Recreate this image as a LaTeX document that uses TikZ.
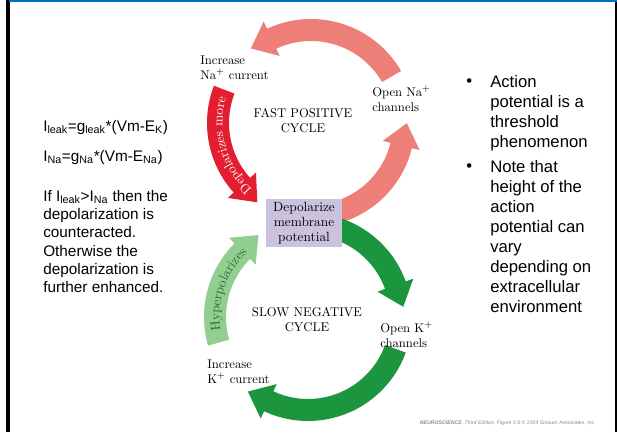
\documentclass[tikz,border=0pt]{standalone}
\usepackage{fontspec}
\newfontfamily\arial{Liberation Sans}
\usetikzlibrary{calc,decorations.text}
\definecolor{napink}{RGB}{238,126,120}
\definecolor{nared}{RGB}{226,30,48}
\definecolor{kgreen}{RGB}{28,150,62}
\definecolor{klight}{RGB}{146,206,144}
\definecolor{boxlilac}{RGB}{202,194,222}
\definecolor{slideblue}{RGB}{0,112,192}
\definecolor{hypertext}{RGB}{45,105,55}
\newcommand{\cyclearrow}[5]{%
  \fill[#5] ($(#1)+(#2:104)$) arc[start angle=#2, end angle=#3, radius=104]
    -- ($(#1)+(#3:112)$) -- ($(#1)+(#3:93)+({#3+(#4)}:23)$) -- ($(#1)+(#3:74)$)
    -- ($(#1)+(#3:82)$) arc[start angle=#3, end angle=#2, radius=82] -- cycle;}
\begin{document}
\begin{tikzpicture}[x=0.75pt,y=0.75pt,
    lbl/.style={font=\fontsize{9.5}{11.3}\selectfont, align=left, inner sep=0pt, anchor=west},
    cyc/.style={font=\fontsize{9.5}{11.3}\selectfont, align=center, inner sep=0pt},
    note/.style={font=\arial\fontsize{11.5}{13.7}\selectfont, align=left, inner sep=0pt, anchor=north west},
    point/.style={font=\arial\fontsize{12.5}{15}\selectfont, align=left, inner sep=0pt, anchor=north west}]
\useasboundingbox (0,0) rectangle (617,432);
\draw[line width=2.4] (8,0) -- (8,432);
\draw[line width=2.2] (616,0) -- (616,432);
\draw[slideblue, line width=2] (9,431.2) -- (617,431.2);
\coordinate (fast) at (311,309);
\coordinate (slow) at (308,115);
\cyclearrow{fast}{30}{115}{90}{napink}
\cyclearrow{fast}{159}{222}{90}{nared}
\cyclearrow{fast}{-75}{-14}{90}{napink}
\cyclearrow{slow}{75}{20}{-90}{kgreen}
\cyclearrow{slow}{-20}{-115}{-90}{kgreen}
\cyclearrow{slow}{196}{135}{-90}{klight}
\path[decorate, decoration={text along path, text align=center, text color=white,
    text={|\fontsize{10}{11}\selectfont|Depolarizes more}}]
  ($(fast)+(234:88.5)$) arc[start angle=234, end angle=158, radius=88.5];
\path[decorate, decoration={text along path, text align=center, text color=hypertext,
    text={|\fontsize{10}{11}\selectfont|Hyperpolarizes}}]
  ($(slow)+(198:88.5)$) arc[start angle=198, end angle=124, radius=88.5];
\node[fill=boxlilac, minimum width=57pt, minimum height=36pt, inner sep=0pt, align=center,
  font=\fontsize{10}{11.3}\selectfont] (depol) at (304,209) {Depolarize\\membrane\\potential};
\node[lbl] (incna) at (200,364) {Increase\\Na\textsuperscript{+} current};
\node[lbl] (openna) at (372,333) {Open Na\textsuperscript{+}\\channels};
\node[cyc] (fastlbl) at (303,311) {FAST POSITIVE\\CYCLE};
\node[cyc] (slowlbl) at (307,112) {SLOW NEGATIVE\\CYCLE};
\node[lbl] (openk) at (380,97) {Open K\textsuperscript{+}\\channels};
\node[lbl] (inck) at (207,60) {Increase\\K\textsuperscript{+} current};
\node[note] (ileak) at (43,312) {I\textsubscript{leak}=g\textsubscript{leak}*(Vm-E\textsubscript{K})};
\node[note] (ina) at (43,282) {I\textsubscript{Na}=g\textsubscript{Na}*(Vm-E\textsubscript{Na})};
\node[note] (cond) at (43,242) {If I\textsubscript{leak}>I\textsubscript{Na} then the\\depolarization is\\counteracted.\\Otherwise the\\depolarization is\\further enhanced.};
\node[point, anchor=base west] (dot1) at (466,345) {•};
\node[point] (pt1) at (490,357) {Action\\potential is a\\threshold\\phenomenon};
\node[point, anchor=base west] (dot2) at (466,260) {•};
\node[point] (pt2) at (490,272) {Note that\\height of the\\action\\potential can\\vary\\depending on\\extracellular\\environment};
\node[anchor=east, inner sep=0pt, text=black!45, font=\arial\fontsize{3.9}{4}\selectfont] (credit) at (596,9)
  {{\bfseries\itshape NEUROSCIENCE}, {\itshape Third Edition}, Figure 3.8 © 2004 Sinauer Associates, Inc.};
\end{tikzpicture}
\end{document}
